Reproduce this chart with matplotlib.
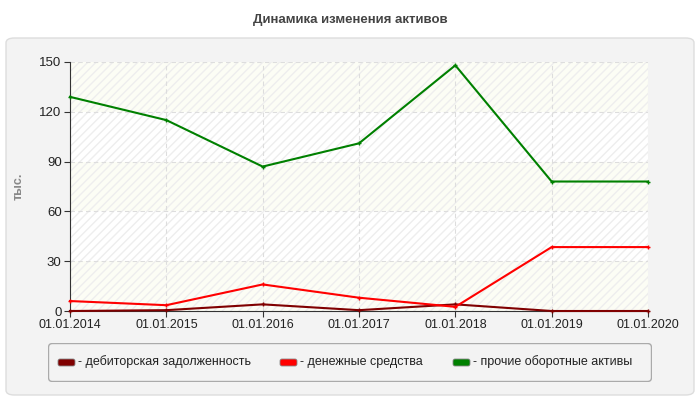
import matplotlib.pyplot as plt
from matplotlib.patches import FancyBboxPatch

dates = ["01.01.2014", "01.01.2015", "01.01.2016", "01.01.2017",
         "01.01.2018", "01.01.2019", "01.01.2020"]
debt = [0, 0.5, 4, 0.5, 4, 0, 0]
cash = [6, 3.5, 16, 8, 2.5, 38.5, 38.5]
other = [129, 115, 87, 101, 148, 78, 78]
yticks = [0, 30, 60, 90, 120, 150]

plt.rcParams["font.family"] = ["Liberation Sans", "DejaVu Sans"]
fig = plt.figure(figsize=(7, 4), dpi=100)
fig.patch.set_facecolor("white")

# grey rounded panel (behind axes)
panel = FancyBboxPatch((6 / 700, 5 / 400), 688 / 700, 357 / 400,
                       boxstyle="round,pad=0,rounding_size=0.012",
                       transform=fig.transFigure, facecolor="#f3f3f3",
                       edgecolor="#dddddd", lw=1, zorder=-5)
fig.patches.append(panel)
fig.text(0.5, 1 - 20 / 400, "Динамика изменения активов", ha="center", va="center",
         fontsize=9.5, fontweight="bold", color="#444444")
fig.text(19 / 700, 1 - 186 / 400, "тыс.", rotation=90, ha="center", va="center",
         fontsize=9, fontweight="bold", color="#888888")

ax = fig.add_axes([70 / 700, 1 - 311 / 400, 578 / 700, 249 / 400])
ax.set_facecolor("white")
x = list(range(len(dates)))
for i in range(len(yticks) - 1):
    ax.axhspan(yticks[i], yticks[i + 1], facecolor="white" if i % 2 else "#fcfdf5",
               hatch="////", edgecolor="#eeeeee", lw=0, zorder=0)

ax.plot(x, debt, color="#800000", lw=1.5, marker="+", ms=3, zorder=3, clip_on=False)
ax.plot(x, cash, color="#ff0000", lw=1.5, marker="+", ms=3, zorder=3, clip_on=False)
ax.plot(x, other, color="#008000", lw=1.5, marker="+", ms=3, zorder=3, clip_on=False)

ax.set_xlim(0, len(dates) - 1)
ax.set_ylim(0, 150)
ax.set_xticks(x)
ax.set_xticklabels(dates, fontsize=9, color="#222222")
ax.set_yticks(yticks)
ax.set_yticklabels([str(v) for v in yticks], fontsize=9.5, color="#222222")
ax.grid(True, ls=(0, (4, 3)), color="#dddddd", lw=0.8, zorder=1)
ax.tick_params(length=4, color="#333333", pad=2)
for s in ["top", "right"]:
    ax.spines[s].set_visible(False)
ax.spines["left"].set_color("#333333")
ax.spines["bottom"].set_color("#333333")

# legend box
lax = fig.add_axes([48 / 700, 1 - 382 / 400, 604 / 700, 39 / 400])
lax.set_xlim(0, 604)
lax.set_ylim(0, 39)
lax.axis("off")
lax.add_patch(FancyBboxPatch((0.5, 0.5), 603, 38, boxstyle="round,pad=0,rounding_size=4",
                             facecolor="#f3f3f3", edgecolor="#aaaaaa", lw=1))
items = [("#800000", "дебиторская задолженность", 10),
         ("#ff0000", "денежные средства", 232),
         ("#008000", "прочие оборотные активы", 405)]
for c, label, px in items:
    lax.add_patch(FancyBboxPatch((px, 16), 17, 7, boxstyle="round,pad=0,rounding_size=2",
                                 facecolor=c, edgecolor="#888888", lw=0.6))
    lax.text(px + 20, 20, "- " + label, fontsize=9, va="center", color="#222222")

fig.savefig("out.png", dpi=100)
